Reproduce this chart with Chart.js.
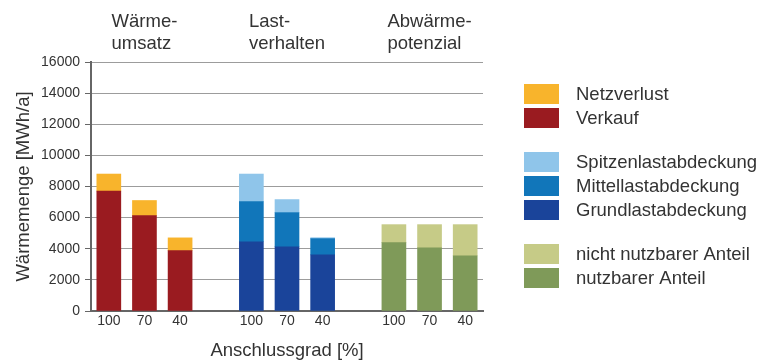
<!DOCTYPE html>
<html lang="de">
<head>
<meta charset="UTF-8">
<title>Wärmemenge</title>
<script src="https://cdn.jsdelivr.net/npm/chart.js"></script>
<style>
    body { margin: 0; background: #fff; }
    #wrap { width: 773px; height: 362px; }
</style>
</head>
<body>
<div id="wrap"><canvas id="chart" width="773" height="362"></canvas></div>
<script>
// Anschlussgrad je Gruppe
const anschluss = ['100', '70', '40'];
const gruppen = [['Wärme-', 'umsatz'], ['Last-', 'verhalten'], ['Abwärme-', 'potenzial']];

// Wärmeumsatz
const verkauf = [7700, 6130, 3880];
const netzverlust = [1100, 970, 820];
// Lastverhalten
const grundlast = [4450, 4130, 3610];
const mittellast = [2580, 2190, 1040];
const spitzenlast = [1770, 840, 60];
// Abwärmepotenzial
const nutzbar = [4390, 4060, 3550];
const nichtNutzbar = [1160, 1490, 2000];

const yTicks = { min: 0, max: 16000, step: 2000 };

// 3 Gruppen à 3 Balken, dazwischen eine leere Kategorie
const labels = [];
gruppen.forEach((g, i) => {
    if (i > 0) labels.push('');
    anschluss.forEach(a => labels.push(a));
});

function inGruppe(g, werte) {
    const out = labels.map(() => null);
    werte.forEach((v, i) => { out[g * 4 + i] = v; });
    return out;
}

const serien = [
    { label: 'Verkauf', data: inGruppe(0, verkauf), color: '#9a1b20' },
    { label: 'Netzverlust', data: inGruppe(0, netzverlust), color: '#f8b42c' },
    { label: 'Grundlastabdeckung', data: inGruppe(1, grundlast), color: '#1a449a' },
    { label: 'Mittellastabdeckung', data: inGruppe(1, mittellast), color: '#1176ba' },
    { label: 'Spitzenlastabdeckung', data: inGruppe(1, spitzenlast), color: '#8fc5ea' },
    { label: 'nutzbarer Anteil', data: inGruppe(2, nutzbar), color: '#7f9a59' },
    { label: 'nicht nutzbarer Anteil', data: inGruppe(2, nichtNutzbar), color: '#c6cb87' }
];

// Reihenfolge der Legende, null = Abstand
const legendeOrdnung = ['Netzverlust', 'Verkauf', null, 'Spitzenlastabdeckung', 'Mittellastabdeckung', 'Grundlastabdeckung', null, 'nicht nutzbarer Anteil', 'nutzbarer Anteil'];

const FONT = '"Liberation Sans", Arial, Helvetica, sans-serif';
const TEXT = '#333';

const extras = {
    id: 'extras',
    afterDraw(chart) {
        const ctx = chart.ctx;
        const x = chart.scales.x;
        ctx.save();
        ctx.fillStyle = TEXT;
        ctx.font = '18.5px ' + FONT;
        ctx.textAlign = 'left';
        // Gruppentitel über dem mittleren Balken
        ctx.textBaseline = 'alphabetic';
        gruppen.forEach((g, i) => {
            const cx = x.getPixelForValue(i * 4 + 1);
            const w = Math.max(...g.map(t => ctx.measureText(t).width));
            g.forEach((t, j) => ctx.fillText(t, cx - w / 2, 27 + j * 21.5));
        });
        // Legende
        ctx.textBaseline = 'middle';
        let y = 84;
        const lx = 524;
        legendeOrdnung.forEach(name => {
            if (name === null) { y += 20; return; }
            const s = serien.find(d => d.label === name);
            ctx.fillStyle = s.color;
            ctx.fillRect(lx, y, 35, 20);
            ctx.fillStyle = TEXT;
            ctx.fillText(name, lx + 52, y + 10.5);
            y += 24;
        });
        ctx.restore();
    }
};

new Chart(document.getElementById('chart'), {
    type: 'bar',
    data: {
        labels: labels,
        datasets: serien.map(s => ({
            label: s.label,
            data: s.data,
            backgroundColor: s.color,
            borderWidth: 0,
            barThickness: 24
        }))
    },
    options: {
        responsive: false,
        animation: false,
        layout: { padding: { top: 62, right: 290, left: 0, bottom: 0 } },
        plugins: {
            legend: { display: false },
            tooltip: { enabled: false }
        },
        scales: {
            x: {
                stacked: true,
                grid: { display: false, drawTicks: false },
                border: { color: '#666', width: 2 },
                ticks: { color: TEXT, font: { family: FONT, size: 14 }, padding: 2 },
                title: { display: true, text: 'Anschlussgrad [%]', color: TEXT, font: { family: FONT, size: 18.5 }, padding: { top: 8, bottom: 0 } }
            },
            y: {
                stacked: true,
                min: yTicks.min,
                max: yTicks.max,
                afterFit(scale) { scale.width = 91; },
                ticks: {
                    stepSize: yTicks.step,
                    color: TEXT,
                    font: { family: FONT, size: 14 },
                    padding: 5,
                    callback: v => String(v)
                },
                grid: { color: '#9c9c9c', tickColor: '#666', tickLength: 6 },
                border: { color: '#666', width: 2 },
                title: { display: true, text: 'Wärmemenge [MWh/a]', color: TEXT, font: { family: FONT, size: 18.5 }, padding: { top: 13, bottom: 0 } }
            }
        }
    },
    plugins: [extras]
});
</script>
</body>
</html>
